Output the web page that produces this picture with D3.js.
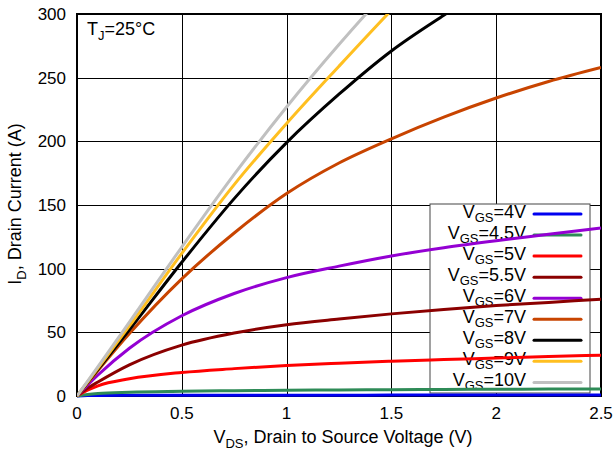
<!DOCTYPE html>
<meta charset="utf-8">
<style>
body { margin: 0; background: #fff; }
svg { font-family: "Liberation Sans", Arial, Helvetica, sans-serif; }
.grid line { stroke: #000; stroke-width: 1px; shape-rendering: crispEdges; }
.grid path { display: none; }
.tick-label { font-size: 17px; fill: #000; }
.curve { fill: none; stroke-width: 3px; stroke-linejoin: round; }
</style>
<svg width="614" height="453"></svg>
<script src="https://cdn.jsdelivr.net/npm/d3@7"></script>
<script>

var svg = d3.select("svg"),
    margin = {top: 14, right: 13, bottom: 57, left: 77},
    width = 614 - margin.left - margin.right,
    height = 453 - margin.top - margin.bottom;

// tick labels
var xTicks = [0, 0.5, 1, 1.5, 2, 2.5],
    yTicks = [0, 50, 100, 150, 200, 250, 300];

// gate voltages (legend order) and colours
var gateLabels = ["4V", "4.5V", "5V", "5.5V", "6V", "7V", "8V", "9V", "10V"],
    gateColors = ["#0000f0", "#2e8b57", "#ff0000", "#8b0000", "#9400d3", "#c84400", "#000000", "#ffbf20", "#c0c0c0"];

// VDS sample points (V) and ID values (A)
var vds = [0, 0.05, 0.1, 0.25, 0.5, 0.75, 1, 1.25, 1.5, 1.75, 2, 2.25, 2.5];
var id4V   = [0, 0.3, 0.4, 0.5, 0.5, 0.6, 0.6, 0.6, 0.7, 0.7, 0.7, 0.8, 0.8];
var id4_5V = [0, 1.2, 2.0, 3.0, 3.7, 4.2, 4.5, 4.8, 5.0, 5.2, 5.3, 5.4, 5.5];
var id5V   = [0, 4.5, 8, 13.5, 18.5, 21.5, 24, 25.8, 27.3, 28.6, 29.8, 31, 32];
var id5_5V = [0, 6, 11, 24.5, 40, 49.5, 56, 60.5, 64.5, 68, 71, 73.5, 76];
var id6V   = [0, 8.5, 16.5, 37.5, 63, 80.5, 93, 102, 110, 116.5, 122, 127, 132];
var id7V   = [0, 10, 20, 49, 92, 128, 159, 183, 202, 219, 234, 247, 258];
var id8V   = [0, 10.5, 21, 52, 105, 155, 199, 237, 271, 299, 325, 350, 375];
var id9V   = [0, 11, 22, 55, 112, 166, 214, 259, 303, 345, 386, 426, 465];
var id10V  = [0, 11.5, 23, 58, 117, 174, 227, 276, 322, 365, 408, 450, 490];

var series = [id4V, id4_5V, id5V, id5_5V, id6V, id7V, id8V, id9V, id10V];

var x = d3.scaleLinear().domain([0, 2.5]).range([0, width]),
    y = d3.scaleLinear().domain([0, 300]).range([height, 0]);

var g = svg.append("g")
    .attr("transform", "translate(" + margin.left + "," + margin.top + ")");

// grid
g.append("g")
    .attr("class", "grid")
    .attr("transform", "translate(0," + height + ")")
    .call(d3.axisBottom(x).tickValues(xTicks).tickSize(-height).tickFormat(""));

g.append("g")
    .attr("class", "grid")
    .call(d3.axisLeft(y).tickValues(yTicks).tickSize(-width).tickFormat(""));

// tick labels
g.selectAll(".xl")
    .data(xTicks)
  .enter().append("text")
    .attr("class", "tick-label")
    .attr("x", function(d) { return x(d); })
    .attr("y", height + 23)
    .attr("text-anchor", "middle")
    .text(function(d) { return d; });

g.selectAll(".yl")
    .data(yTicks)
  .enter().append("text")
    .attr("class", "tick-label")
    .attr("x", -11)
    .attr("y", function(d) { return y(d); })
    .attr("dy", "0.36em")
    .attr("text-anchor", "end")
    .text(function(d) { return d; });

// frame
g.append("rect")
    .attr("width", width)
    .attr("height", height)
    .attr("fill", "none")
    .attr("stroke", "#000")
    .attr("stroke-width", 2);

// TJ label
var tj = g.append("text")
    .attr("x", 10)
    .attr("y", 21)
    .style("font-size", "18px");
tj.append("tspan").text("T");
tj.append("tspan").attr("dy", 5).style("font-size", "13px").text("J");
tj.append("tspan").attr("dy", -5).text("=25°C");

// legend box (white, drawn under the curves)
var legendX = 430 - margin.left,
    legendY = 204 - margin.top,
    rowH = 21.05;

g.append("rect")
    .attr("x", legendX)
    .attr("y", legendY)
    .attr("width", 160)
    .attr("height", 189)
    .attr("fill", "#fff")
    .attr("stroke", "#444")
    .attr("stroke-width", 1);

var item = g.selectAll(".legend-item")
    .data(gateLabels)
  .enter().append("g")
    .attr("class", "legend-item")
    .attr("transform", function(d, i) { return "translate(0," + (legendY + 10 + i * rowH) + ")"; });

item.append("line")
    .attr("x1", 534 - margin.left)
    .attr("x2", 581 - margin.left)
    .attr("stroke", function(d, i) { return gateColors[i]; })
    .attr("stroke-width", 3)
    .attr("stroke-linecap", "round");

var lt = item.append("text")
    .attr("x", 526 - margin.left)
    .attr("y", 4)
    .attr("text-anchor", "end")
    .style("font-size", "18px");
lt.append("tspan").text("V");
lt.append("tspan").attr("dy", 4).style("font-size", "13px").text("GS");
lt.append("tspan").attr("dy", -4).text(function(d) { return "=" + d; });

// curves
svg.append("defs").append("clipPath")
    .attr("id", "clip")
  .append("rect")
    .attr("x", 0)
    .attr("y", 0)
    .attr("width", width)
    .attr("height", height + 2);

var line = d3.line()
    .x(function(d, i) { return x(vds[i]); })
    .y(function(d) { return y(d); })
    .curve(d3.curveMonotoneX);

g.append("g")
    .attr("clip-path", "url(#clip)")
  .selectAll(".curve")
    .data(series)
  .enter().append("path")
    .attr("class", "curve")
    .attr("stroke", function(d, i) { return gateColors[i]; })
    .attr("d", line);

// axis titles
var xt = svg.append("text")
    .attr("x", margin.left + width / 2 + 4)
    .attr("y", 443)
    .attr("text-anchor", "middle")
    .style("font-size", "18px");
xt.append("tspan").text("V");
xt.append("tspan").attr("dy", 5).style("font-size", "13px").text("DS");
xt.append("tspan").attr("dy", -5).text(", Drain to Source Voltage (V)");

var yt = svg.append("text")
    .attr("transform", "translate(21," + (margin.top + height / 2 - 1) + ") rotate(-90)")
    .attr("text-anchor", "middle")
    .style("font-size", "18px");
yt.append("tspan").text("I");
yt.append("tspan").attr("dy", 5).style("font-size", "13px").text("D");
yt.append("tspan").attr("dy", -5).text(", Drain Current (A)");

</script>
